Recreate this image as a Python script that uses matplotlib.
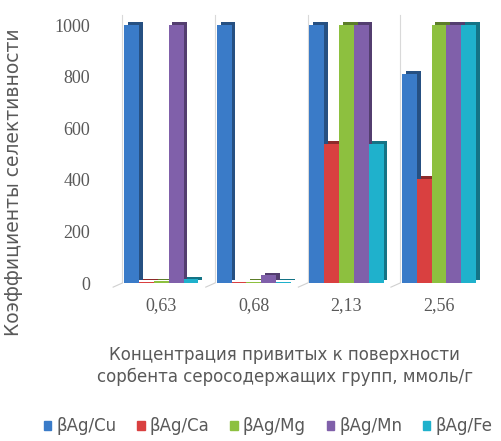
import matplotlib.pyplot as plt
import numpy as np
from matplotlib.patches import Patch
from matplotlib.colors import to_rgb

categories = ["0,63", "0,68", "2,13", "2,56"]
series = ["βAg/Cu", "βAg/Ca", "βAg/Mg", "βAg/Mn", "βAg/Fe"]
cu = [1000, 1000, 1000, 810]
ca = [4, 3, 540, 403]
mg = [6, 4, 1000, 1000]
mn = [1000, 30, 1000, 1000]
fe = [14, 5, 540, 1000]
yticks = [0, 200, 400, 600, 800, 1000]

values = [cu, ca, mg, mn, fe]
colors = ["#3a7bc8", "#d94040", "#8dc03f", "#8060aa", "#1fb1cc"]
gray = "#595959"

fig = plt.figure(figsize=(5.01, 4.41), dpi=100)
ymax = 1060
ax = fig.add_axes([115 / 501, 1 - 283 / 441, 375 / 501, 258 * ymax / 1000 / 441])

x = np.arange(len(categories))
w = 0.8 / len(series)
dx, dy = 0.04, 10

def darker(c, f=0.65):
    return tuple(v * f for v in to_rgb(c))

# back wall separators and floor ticks
for i in x:
    ax.plot([i - 0.42, i - 0.42], [0, 1040], color="#d9d9d9", lw=0.8, zorder=0)
    ax.plot([i - 0.42, i - 0.52], [0, -16], color="#d0d0d0", lw=0.8, zorder=0, clip_on=False)

for j, (vals, c) in enumerate(zip(values, colors)):
    pos = x - 0.4 + w * (j + 0.5)
    ax.bar(pos + dx, vals, w, bottom=dy, color=darker(c), zorder=1)
    ax.bar(pos, vals, w, color=c, zorder=2)

ax.set_xlim(-0.5, 3.55)
ax.set_ylim(0, ymax)
ax.set_yticks(yticks)
ax.set_yticklabels([str(v) for v in yticks], family="Liberation Serif", fontsize=13, color=gray)
ax.set_xticks(x)
ax.set_xticklabels(categories, family="Liberation Serif", fontsize=13, color=gray)
ax.tick_params(length=0, pad=10)
ax.tick_params(axis="y", pad=18)
for s in ax.spines.values():
    s.set_visible(False)

fig.text(0.026, 1 - 182 / 441, "Коэффициенты селективности", rotation=90,
         ha="center", va="center", fontsize=13.5, color=gray)
fig.text(0.568, 1 - 366 / 441, "Концентрация привитых к поверхности\nсорбента серосодержащих групп, ммоль/г",
         ha="center", va="center", fontsize=12, color=gray, linespacing=1.25)

handles = [Patch(color=c) for c in colors]
fig.legend(handles, series, loc="center", bbox_to_anchor=(0.535, 1 - 426 / 441), ncol=5,
           frameon=False, fontsize=12, labelcolor=gray, handlelength=0.45, handleheight=0.45,
           handletextpad=0.3, columnspacing=1.25)

fig.savefig("out.png", dpi=100)
